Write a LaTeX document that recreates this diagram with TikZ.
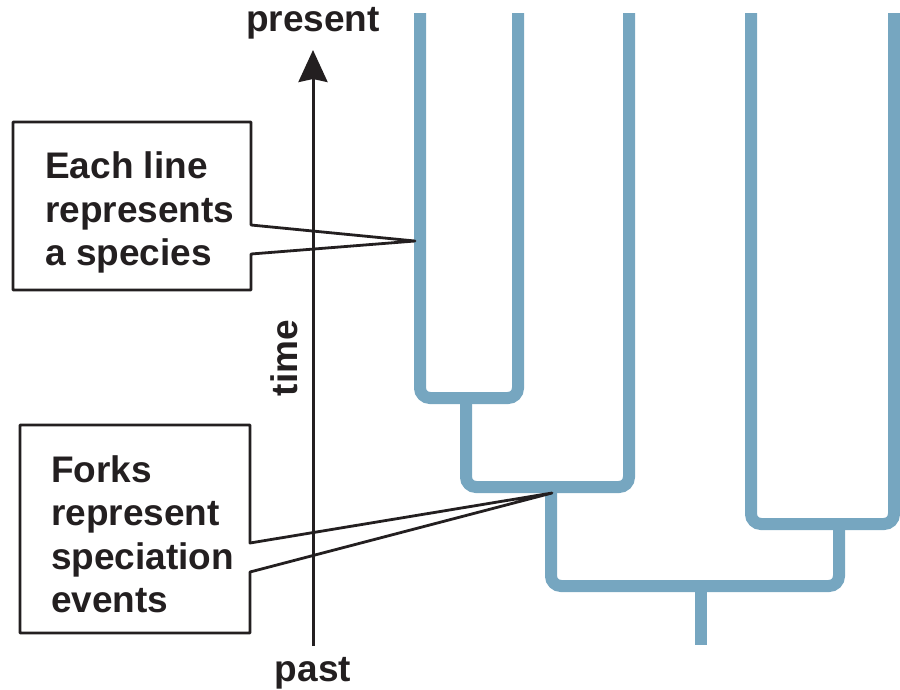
\documentclass[tikz,border=0pt]{standalone}
\usepackage{fontspec}
\setmainfont{Liberation Sans}
\usetikzlibrary{arrows.meta}
\definecolor{ink}{HTML}{231F20}
\definecolor{lineage}{RGB}{118,166,192}
\begin{document}
\begin{tikzpicture}[x=1pt,y=-1pt,
  branch/.style={draw=lineage,line width=12pt,line cap=butt,rounded corners=10pt},
  axisline/.style={draw=ink,line width=3pt,-{Stealth[length=32pt,width=29pt,inset=3pt]}},
  calloutbox/.style={draw=ink,line width=2.8pt,line join=round},
  lbl/.style={text=ink,font=\fontsize{37}{43.5}\selectfont\bfseries,inner sep=0pt}]
\useasboundingbox (0,0) rectangle (900,689);

% species lineages (present at top, past at bottom)
\coordinate (s1) at (420,13);
\coordinate (s2) at (518,13);
\coordinate (s3) at (629,13);
\coordinate (s4) at (751,13);
\coordinate (s5) at (894,13);
\coordinate (root) at (701,645);
\draw[branch] (s1) -- (420,398) -- (518,398) -- (s2);
\draw[branch] (466,398) -- (466,487) -- (629,487) -- (s3);
\draw[branch] (551,487) -- (551,586) -- (839,586) -- (839,524);
\draw[branch] (s4) -- (751,524) -- (894,524) -- (s5);
\draw[branch] (701,586) -- (root);

% time axis
\node[lbl,anchor=base] (present) at (313,31) {present};
\node[lbl,anchor=base] (past) at (313,681) {past};
\node[lbl,anchor=base,rotate=90] (time) at (297,358) {time};
\coordinate (axbot) at (313,646);
\coordinate (axtop) at (313,50);
\draw[axisline] (axbot) -- (axtop);

% callout: lines are species
\coordinate (tipA) at (415,241);
\draw[calloutbox] (13,122) -- (251,122) -- (251,225) -- (tipA) -- (251,254)
  -- (251,290) -- (13,290) -- cycle;
\node[lbl,anchor=base west] (a1) at (45,178) {Each line};
\node[lbl,anchor=base west] (a2) at (45,222) {represents};
\node[lbl,anchor=base west] (a3) at (45,265) {a species};

% callout: forks are speciation events
\coordinate (tipB) at (552,493);
\draw[calloutbox] (20,425) -- (250,425) -- (250,543) -- (tipB) -- (250,572)
  -- (250,633) -- (20,633) -- cycle;
\node[lbl,anchor=base west] (b1) at (51,482) {Forks};
\node[lbl,anchor=base west] (b2) at (51,525) {represent};
\node[lbl,anchor=base west] (b3) at (51,569) {speciation};
\node[lbl,anchor=base west] (b4) at (51,612) {events};
\end{tikzpicture}
\end{document}
